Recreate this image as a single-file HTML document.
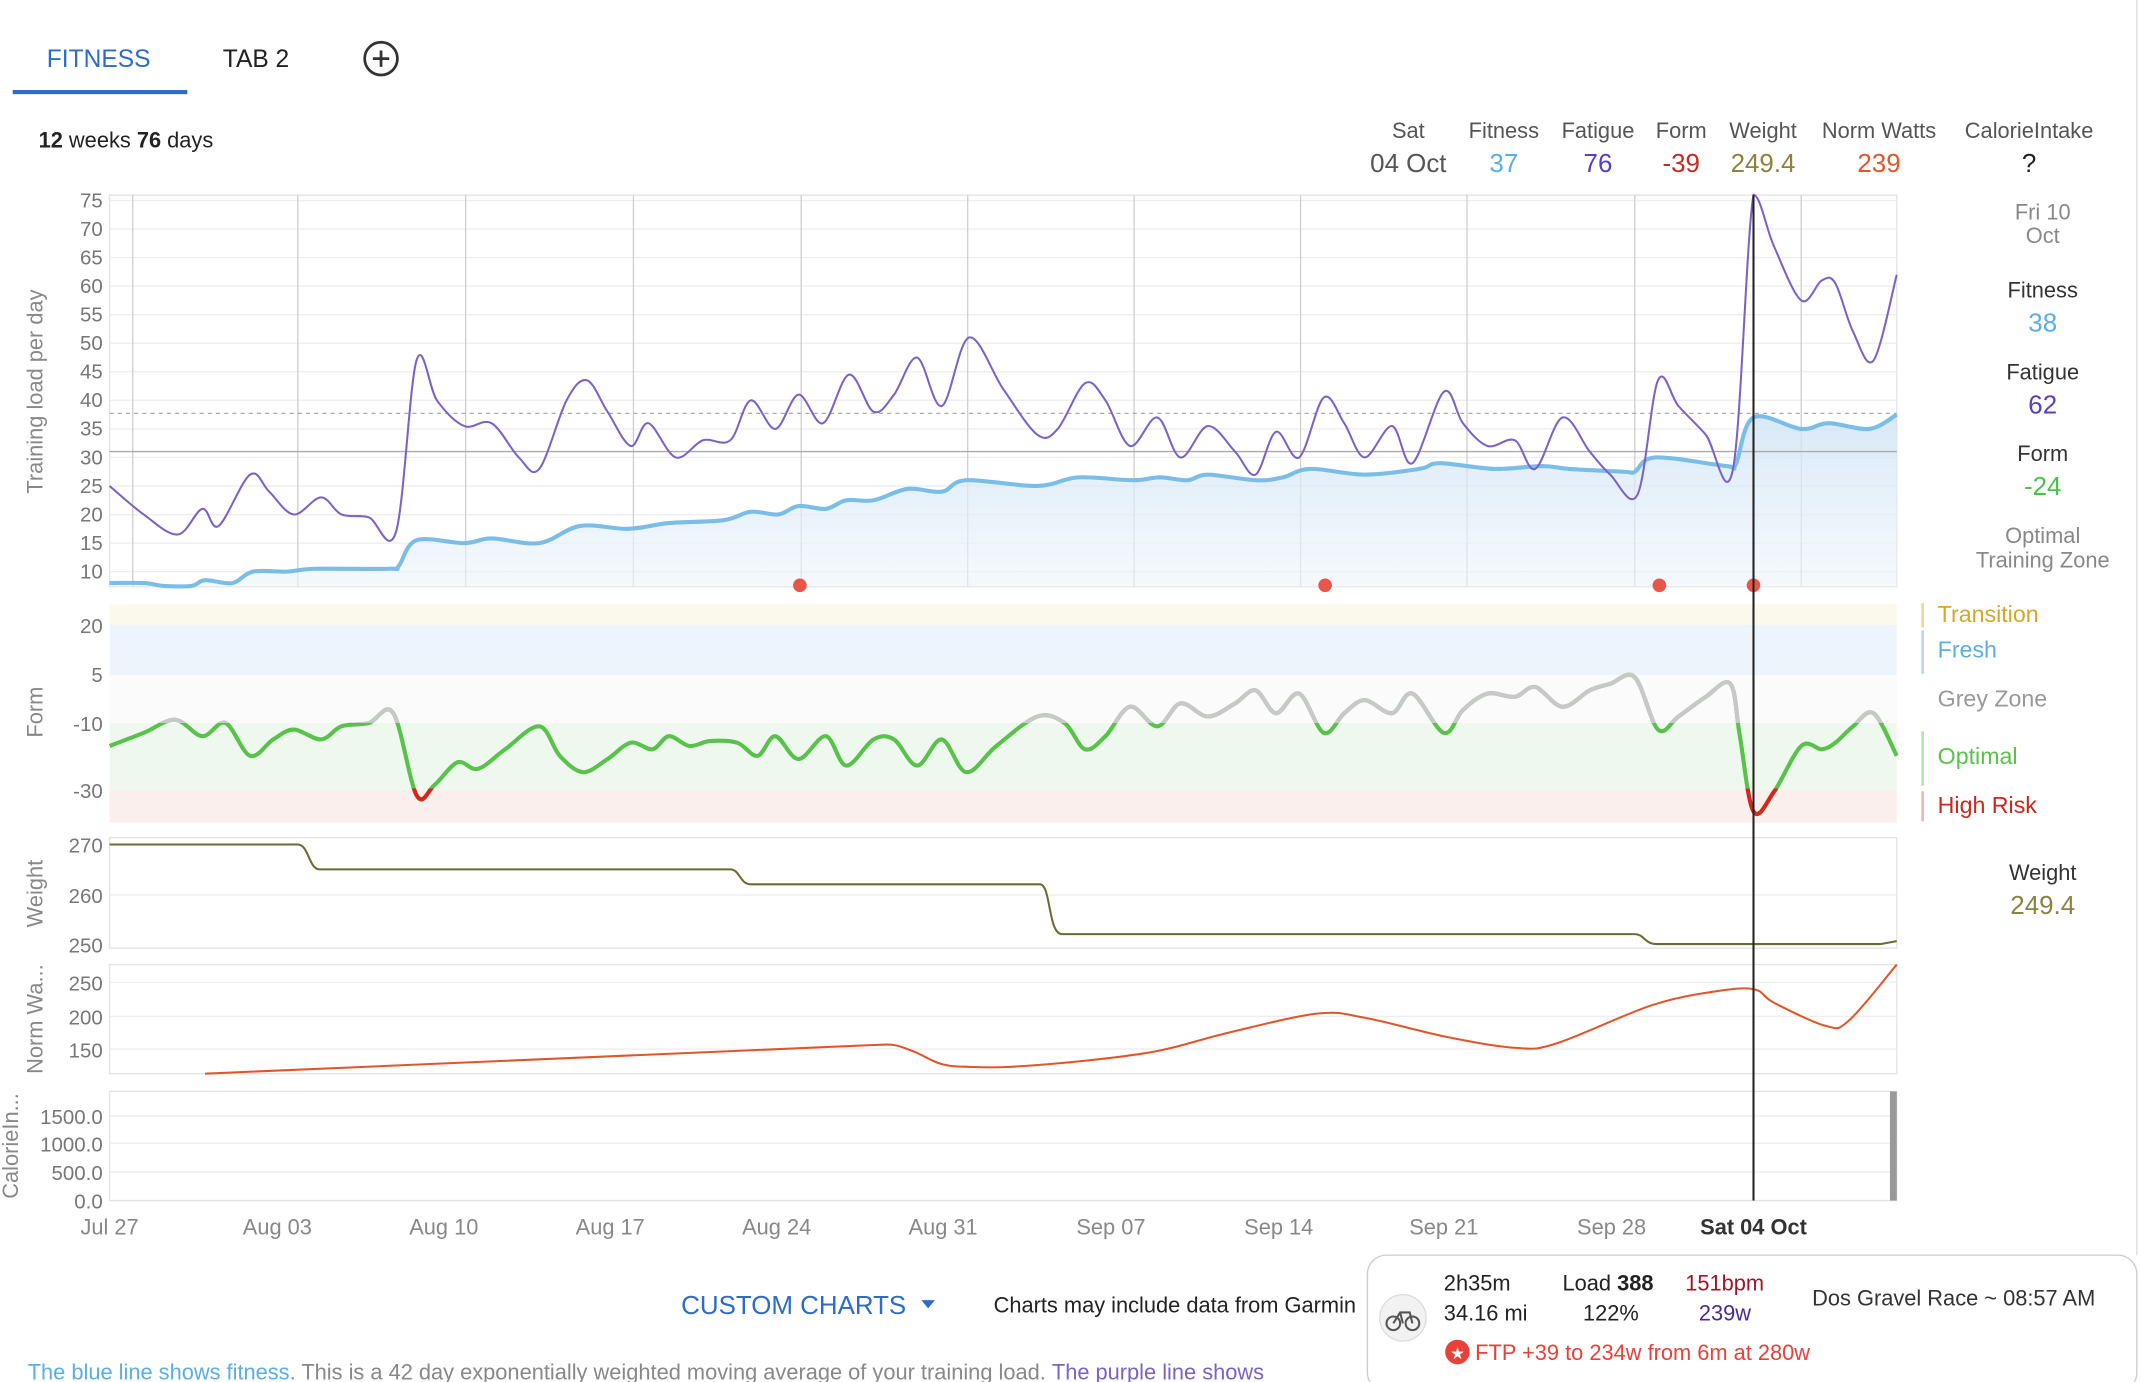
<!DOCTYPE html>
<html><head><meta charset="utf-8">
<style>
html,body{margin:0;padding:0;background:#fff;}
svg{display:block;font-family:"Liberation Sans",Arial,sans-serif;}
</style></head>
<body>
<svg id="s" width="2140" height="1382" viewBox="0 0 1568 1013" xmlns="http://www.w3.org/2000/svg">
<defs>
<linearGradient id="fg" x1="0" y1="0" x2="0" y2="1"><stop offset="0" stop-color="#cfe3f5" stop-opacity="0.8"/><stop offset="1" stop-color="#eef5fb" stop-opacity="0.6"/></linearGradient>
<clipPath id="cg"><rect x="0" y="443" width="1568" height="87"/></clipPath>
<clipPath id="cr"><rect x="0" y="578" width="1568" height="40"/></clipPath>
</defs>
<rect width="1568" height="1013" fill="#fff"/>
<text x="34" y="49" font-size="18" fill="#2d6cc7">FITNESS</text>
<text x="163" y="49" font-size="18" fill="#222">TAB 2</text>
<circle cx="279" cy="43" r="12" fill="none" stroke="#333" stroke-width="2"/>
<line x1="273" y1="43" x2="285" y2="43" stroke="#333" stroke-width="2"/><line x1="279" y1="37" x2="279" y2="49" stroke="#333" stroke-width="2"/>
<rect x="9" y="66" width="128" height="3" fill="#2d6cc7"/>
<text x="28" y="108" font-size="16" fill="#222"><tspan font-weight="bold">12</tspan> weeks <tspan font-weight="bold">76</tspan> days</text>
<g font-size="16" text-anchor="middle" fill="#555">
<text x="1032" y="101">Sat</text><text x="1102" y="101">Fitness</text><text x="1171" y="101">Fatigue</text><text x="1232" y="101">Form</text><text x="1292" y="101">Weight</text><text x="1377" y="101">Norm Watts</text><text x="1487" y="101">CalorieIntake</text>
</g>
<g font-size="19" text-anchor="middle">
<text x="1032" y="126" fill="#555">04 Oct</text><text x="1102" y="126" fill="#5aaee6">37</text><text x="1171" y="126" fill="#5b3dc0">76</text><text x="1232" y="126" fill="#c9281e">-39</text><text x="1292" y="126" fill="#8a8440">249.4</text><text x="1377" y="126" fill="#e0562a">239</text><text x="1487" y="126" fill="#222">?</text>
</g>
<g text-anchor="middle" font-size="16">
<text x="1497" y="161" fill="#888">Fri 10</text><text x="1497" y="178" fill="#888">Oct</text>
<text x="1497" y="218" fill="#333">Fitness</text><text x="1497" y="243" fill="#5aaee6" font-size="19">38</text>
<text x="1497" y="278" fill="#333">Fatigue</text><text x="1497" y="303" fill="#5b3dc0" font-size="19">62</text>
<text x="1497" y="338" fill="#333">Form</text><text x="1497" y="363" fill="#4cc24c" font-size="19">-24</text>
<text x="1497" y="398" fill="#888">Optimal</text><text x="1497" y="416" fill="#888">Training Zone</text>
<text x="1497" y="645" fill="#333">Weight</text><text x="1497" y="670" fill="#8a8440" font-size="19">249.4</text>
</g>
<rect x="80" y="143" width="1310" height="287" fill="none" stroke="#e4e4e4"/>
<g id="hg1" stroke="#eee"></g>
<g id="vg" stroke="#d0d0d0"></g>
<g id="yl1" font-size="15" fill="#777" text-anchor="end"></g>
<path id="farea" fill="url(#fg)"/>
<line x1="80" y1="331" x2="1390" y2="331" stroke="#aaa"/>
<line x1="80" y1="303" x2="1390" y2="303" stroke="#aaa" stroke-dasharray="3,3"/>
<path id="fit" fill="none" stroke="#7bbde9" stroke-width="3"/>
<path id="fat" fill="none" stroke="#7b62c6" stroke-width="1.5"/>
<g fill="#e8564a"><circle cx="586" cy="429" r="5"/><circle cx="971" cy="429" r="5"/><circle cx="1216" cy="429" r="5"/><circle cx="1285" cy="429" r="5"/></g>
<text transform="translate(31,287) rotate(-90)" font-size="16" fill="#888" text-anchor="middle">Training load per day</text>
<rect x="80" y="443" width="1310" height="15" fill="#fbf8ec"/>
<rect x="80" y="458" width="1310" height="37" fill="#eef4fb"/>
<rect x="80" y="495" width="1310" height="35" fill="#fbfbfb"/>
<rect x="80" y="530" width="1310" height="49" fill="#eff8ee"/>
<rect x="80" y="579" width="1310" height="24" fill="#fbefed"/>
<g font-size="15" fill="#777" text-anchor="end"><text x="75" y="464">20</text><text x="75" y="500">5</text><text x="75" y="536">-10</text><text x="75" y="585">-30</text></g>
<text transform="translate(31,522) rotate(-90)" font-size="16" fill="#888" text-anchor="middle">Form</text>
<path id="form" fill="none" stroke="#58c24a" stroke-width="3"/>
<path id="formg" fill="none" stroke="#c8c8c8" stroke-width="3" clip-path="url(#cg)"/>
<path id="formr" fill="none" stroke="#d4281e" stroke-width="3" clip-path="url(#cr)"/>
<rect x="1408" y="442" width="2" height="18" fill="#f0d890"/>
<rect x="1408" y="462" width="2" height="32" fill="#bcd8f0"/>
<rect x="1408" y="536" width="2" height="40" fill="#b8e6b0"/>
<rect x="1408" y="580" width="2" height="22" fill="#f0b8b0"/>
<g font-size="17"><text x="1420" y="456" fill="#d6a52a">Transition</text><text x="1420" y="482" fill="#5aaee6">Fresh</text><text x="1420" y="518" fill="#999">Grey Zone</text><text x="1420" y="560" fill="#58c24a">Optimal</text><text x="1420" y="596" fill="#c9281e">High Risk</text></g>
<rect x="80" y="614" width="1310" height="81" fill="none" stroke="#e4e4e4"/>
<line x1="80" y1="656" x2="1390" y2="656" stroke="#eee"/>
<g font-size="15" fill="#777" text-anchor="end"><text x="75" y="625">270</text><text x="75" y="662">260</text><text x="75" y="698">250</text></g>
<text transform="translate(31,655) rotate(-90)" font-size="16" fill="#888" text-anchor="middle">Weight</text>
<path id="wt" fill="none" stroke="#6b6b34" stroke-width="1.5"/>
<rect x="80" y="707" width="1310" height="80" fill="none" stroke="#e4e4e4"/>
<line x1="80" y1="720" x2="1390" y2="720" stroke="#eee"/><line x1="80" y1="745" x2="1390" y2="745" stroke="#eee"/><line x1="80" y1="769" x2="1390" y2="769" stroke="#eee"/>
<g font-size="15" fill="#777" text-anchor="end"><text x="75" y="726">250</text><text x="75" y="751">200</text><text x="75" y="775">150</text></g>
<text transform="translate(31,747) rotate(-90)" font-size="16" fill="#888" text-anchor="middle">Norm Wa...</text>
<path id="nw" fill="none" stroke="#e0562a" stroke-width="1.5"/>
<rect x="80" y="800" width="1310" height="80" fill="none" stroke="#e4e4e4"/>
<line x1="80" y1="818" x2="1390" y2="818" stroke="#eee"/><line x1="80" y1="838" x2="1390" y2="838" stroke="#eee"/><line x1="80" y1="859" x2="1390" y2="859" stroke="#eee"/>
<g font-size="15" fill="#777" text-anchor="end"><text x="75" y="824">1500.0</text><text x="75" y="844">1000.0</text><text x="75" y="865">500.0</text><text x="75" y="886">0.0</text></g>
<text transform="translate(13,840) rotate(-90)" font-size="16" fill="#888" text-anchor="middle">CalorieIn...</text>
<rect x="1385" y="800" width="5" height="80" fill="#999"/>
<line x1="1285" y1="143" x2="1285" y2="880" stroke="#222" stroke-width="1.5"/>
<g font-size="16" fill="#888" text-anchor="middle">
<text x="80" y="905">Jul 27</text><text x="203" y="905">Aug 03</text><text x="325" y="905">Aug 10</text><text x="447" y="905">Aug 17</text><text x="569" y="905">Aug 24</text><text x="691" y="905">Aug 31</text><text x="814" y="905">Sep 07</text><text x="937" y="905">Sep 14</text><text x="1058" y="905">Sep 21</text><text x="1181" y="905">Sep 28</text><text x="1285" y="905" fill="#333" font-weight="bold">Sat 04 Oct</text>
</g>
<text x="499" y="963" font-size="19" fill="#2d6cc7">CUSTOM CHARTS</text>
<path d="M675 953 L685 953 L680 959 Z" fill="#2d6cc7"/>
<text x="728" y="962" font-size="16" fill="#222">Charts may include data from Garmin</text>
<text x="20" y="1011" font-size="16" fill="#5aaee6">The blue line shows fitness<tspan fill="#888">. This is a 42 day exponentially weighted moving average of your training load. </tspan><tspan fill="#7b62c6">The purple line shows</tspan></text>
<rect x="1002" y="920" width="564" height="100" rx="14" fill="#fff" stroke="#ccc"/>
<circle cx="1028" cy="966" r="17" fill="#f2f2f2" stroke="#ddd"/>
<circle cx="1021" cy="970" r="5" fill="none" stroke="#555" stroke-width="1.5"/><circle cx="1035" cy="970" r="5" fill="none" stroke="#555" stroke-width="1.5"/>
<path d="M1021 970 L1026 962 L1033 962 L1035 970 M1026 962 L1028 970" fill="none" stroke="#555" stroke-width="1.5"/>
<g font-size="16" fill="#222">
<text x="1058" y="946">2h35m</text><text x="1058" y="968">34.16 mi</text>
<text x="1145" y="946">Load <tspan font-weight="bold">388</tspan></text><text x="1160" y="968">122%</text>
<text x="1235" y="946" fill="#a0142a">151bpm</text><text x="1245" y="968" fill="#4a2a9a">239w</text>
<text x="1328" y="957" fill="#333">Dos Gravel Race ~ 08:57 AM</text>
</g>
<circle cx="1068" cy="991" r="9" fill="#e8403a"/><text x="1068" y="996" font-size="12" fill="#fff" text-anchor="middle">★</text>
<text x="1081" y="997" font-size="16" fill="#e8403a">FTP +39 to 234w from 6m at 280w</text>
<line x1="1566" y1="0" x2="1566" y2="920" stroke="#ddd"/>
</svg>
<script>
function cr(p,top){var d="M"+p[0][0]+" "+p[0][1];for(var i=0;i<p.length-1;i++){var p0=p[i-1]||p[i],p1=p[i],p2=p[i+1],p3=p[i+2]||p2;var c1x=p1[0]+(p2[0]-p0[0])/6,c1y=p1[1]+(p2[1]-p0[1])/6,c2x=p2[0]-(p3[0]-p1[0])/6,c2y=p2[1]-(p3[1]-p1[1])/6;if(top!==undefined){c1y=Math.max(c1y,top);c2y=Math.max(c2y,top);}d+=" C"+c1x.toFixed(1)+" "+c1y.toFixed(1)+" "+c2x.toFixed(1)+" "+c2y.toFixed(1)+" "+p2[0]+" "+p2[1].toFixed(1);}return d;}
function y1(v){return 419-(v-10)*4.185;}
var NS="http://www.w3.org/2000/svg";
var hg=document.getElementById("hg1"),yl=document.getElementById("yl1");
for(var v=10;v<=75;v+=5){var y=y1(v);var l=document.createElementNS(NS,"line");l.setAttribute("x1",80);l.setAttribute("x2",1390);l.setAttribute("y1",y);l.setAttribute("y2",y);hg.appendChild(l);var t=document.createElementNS(NS,"text");t.setAttribute("x",75);t.setAttribute("y",y+5);t.textContent=v;yl.appendChild(t);}
var vg=document.getElementById("vg");[97,218,341,464,587,709,831,953,1075,1198,1320].forEach(function(x){var l=document.createElementNS(NS,"line");l.setAttribute("x1",x);l.setAttribute("x2",x);l.setAttribute("y1",143);l.setAttribute("y2",430);vg.appendChild(l);});
var fit=[[80,8],[105,8],[120,7.5],[140,7.5],[150,8.5],[170,8],[185,10],[210,10],[230,10.5],[285,10.5],[292,11],[305,15.5],[340,15],[360,15.8],[395,15],[425,18],[460,17.5],[490,18.5],[530,19],[550,20.5],[570,20],[585,21.5],[605,21],[620,22.5],[640,22.5],[665,24.5],[690,24],[708,26],[760,25],[790,26.5],[830,26],[850,26.5],[870,26],[885,27],[920,26],[940,26.5],[960,28],[1000,27],[1040,28],[1055,29],[1095,28],[1130,28.5],[1150,28],[1190,27.5],[1198,27.5],[1213,30],[1265,28.5],[1272,28.8],[1285,37],[1320,35],[1340,36],[1370,35],[1390,37.5]].map(function(p){return [p[0],y1(p[1])];});
var fat=[[80,25],[105,20],[130,16.5],[148,21],[160,18],[183,27],[197,24],[215,20],[235,23],[250,20],[270,19.5],[290,17],[305,47],[320,40],[340,35.5],[360,36],[380,30],[395,28],[415,40],[430,43.5],[445,38],[462,32],[475,36],[495,30],[515,33],[535,33],[550,40],[568,35],[585,41],[603,36],[622,44.5],[640,38],[655,41],[672,47.5],[690,39],[710,51],[735,42],[760,34],[775,35],[795,43],[810,40],[828,32],[848,37],[865,30],[885,35.5],[905,31],[920,27],[935,34.5],[952,30],[970,40.5],[985,36],[1000,30],[1020,35.5],[1035,29],[1058,41.5],[1072,36],[1090,32],[1110,33],[1125,28],[1145,37],[1165,31],[1180,27],[1200,23.5],[1215,43.5],[1230,39],[1250,34],[1270,28],[1285,76],[1300,67],[1320,57.5],[1335,61],[1345,60.5],[1358,52],[1373,47],[1390,62]].map(function(p){return [p[0],y1(p[1])];});
var fd=cr(fit);document.getElementById("fit").setAttribute("d",fd);
document.getElementById("farea").setAttribute("d",fd+" L1390 430 L80 430 Z");
document.getElementById("fat").setAttribute("d",cr(fat,y1(76)));
var form=[[80,-17],[105,-13],[128,-9],[148,-14],[165,-10],[183,-20],[200,-15],[215,-12],[235,-15],[250,-11],[270,-10],[288,-7],[305,-32],[318,-29],[335,-22],[350,-24],[370,-18],[395,-11],[410,-20],[427,-25],[445,-21],[462,-16],[478,-18],[490,-14],[505,-17],[520,-15.5],[540,-16],[555,-20],[568,-14],[585,-21],[605,-14],[620,-23],[640,-15],[655,-15],[672,-23],[690,-15],[708,-25],[730,-17],[760,-8],[780,-10],[795,-18],[810,-14],[828,-5],[848,-11],[865,-4],[885,-8],[905,-4],[920,0],[935,-7],[952,-1],[970,-13],[985,-7],[1000,-3],[1020,-7],[1035,-1],[1058,-13],[1072,-6],[1090,-1],[1110,-2],[1125,1],[1145,-5],[1165,0],[1180,2],[1198,4],[1215,-12],[1230,-8],[1250,-2],[1268,2],[1275,-14],[1285,-37],[1300,-31],[1320,-17],[1335,-18],[1345,-16],[1358,-11],[1373,-7],[1390,-20]].map(function(p){return [p[0],506-2.4*p[1]];});
var fo=cr(form);["form","formg","formr"].forEach(function(id){document.getElementById(id).setAttribute("d",fo);});
function wy(w){return 692-(w-250)*3.65;}
document.getElementById("wt").setAttribute("d","M80 "+wy(270)+" L218 "+wy(270)+" C226 "+wy(270)+" 226 "+wy(265)+" 234 "+wy(265)+" L535 "+wy(265)+" C542 "+wy(265)+" 542 "+wy(262)+" 550 "+wy(262)+" L762 "+wy(262)+" C770 "+wy(262)+" 768 "+wy(252)+" 778 "+wy(252)+" L1198 "+wy(252)+" C1205 "+wy(252)+" 1205 "+wy(250)+" 1214 "+wy(250)+" L1378 "+wy(250)+" L1390 "+wy(250.6));
var nw=[[640,766],[655,766],[670,771],[690,780],[710,782],[740,782],[800,777],[850,770],[900,757],[965,743],[1000,746],[1060,760],[1110,768],[1140,765],[1210,737],[1255,727],[1285,725],[1300,735],[1338,752],[1355,748],[1390,707]];
document.getElementById("nw").setAttribute("d","M150 787 L640 766 "+cr(nw).replace(/^M[^C]*/,""));
</script>
</body></html>
